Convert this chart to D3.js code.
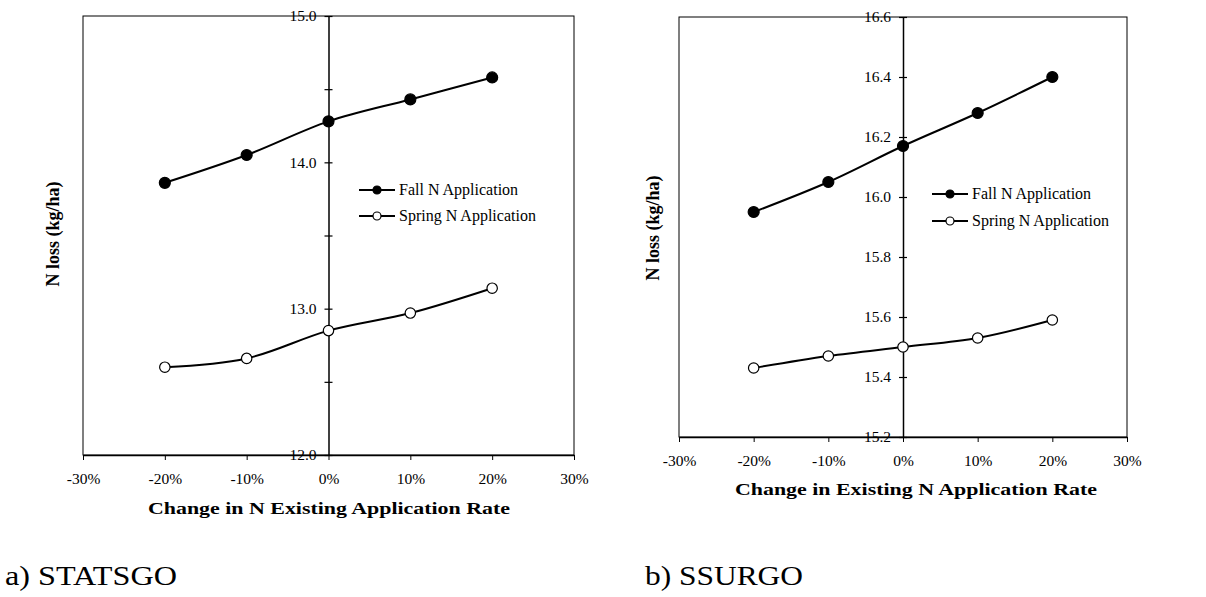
<!DOCTYPE html>
<html>
<head>
<meta charset="utf-8">
<script src="https://cdn.jsdelivr.net/npm/d3@7"></script>
<style>
  html, body { margin: 0; padding: 0; background: #fff; }
  svg { display: block; }
  svg text { font-family: "Liberation Serif", "Times New Roman", serif; fill: #000; }
</style>
</head>
<body>
<svg id="chart" width="1206" height="597"></svg>
<script>
// ---- data ----
const changes = [-20, -10, 0, 10, 20];           // % change in N application rate
const xTicks = [-30, -20, -10, 0, 10, 20, 30];

// a) STATSGO
const statsgoFall   = [13.86, 14.05, 14.28, 14.43, 14.58];
const statsgoSpring = [12.60, 12.66, 12.85, 12.97, 13.14];
const statsgoYMajor = [12.0, 13.0, 14.0, 15.0];
const statsgoYMinor = [12.5, 13.5, 14.5];

// b) SSURGO
const ssurgoFall   = [15.95, 16.05, 16.17, 16.28, 16.40];
const ssurgoSpring = [15.43, 15.47, 15.50, 15.53, 15.59];
const ssurgoYMajor = [15.2, 15.4, 15.6, 15.8, 16.0, 16.2, 16.4, 16.6];

const seriesNames = ["Fall N Application", "Spring N Application"];

const FONT = "Liberation Serif";
const svg = d3.select("#chart");

function panel(cfg) {
  const x = d3.scaleLinear().domain([-30, 30]).range([cfg.left, cfg.right]);
  const y = d3.scaleLinear().domain(cfg.yDomain).range([cfg.bottom, cfg.top]);
  const g = svg.append("g");

  // plot frame
  g.append("rect")
    .attr("x", cfg.left).attr("y", cfg.top)
    .attr("width", cfg.right - cfg.left).attr("height", cfg.bottom - cfg.top)
    .attr("fill", "none").attr("stroke", "#000").attr("stroke-width", 1);

  // x axis at bottom
  const xa = g.append("g")
    .attr("transform", `translate(0,${cfg.bottom})`)
    .attr("font-family", FONT)
    .call(d3.axisBottom(x).tickValues(xTicks).tickFormat(d => d + "%")
      .tickSize(5).tickSizeOuter(0).tickPadding(13));
  xa.attr("font-family", FONT);
  xa.select(".domain").attr("stroke", "#000").attr("stroke-width", 1.5);
  xa.selectAll("text").attr("font-size", 15.5).attr("font-family", FONT);

  // minor y ticks (no labels)
  if (cfg.yMinor) {
    const ym = g.append("g")
      .attr("transform", `translate(${x(0)},0)`)
      .call(d3.axisLeft(y).tickValues(cfg.yMinor).tickFormat("").tickSize(4).tickSizeOuter(0));
    ym.select(".domain").remove();
    ym.selectAll(".tick line").attr("x1", 4).attr("stroke-width", 1.2);
  }
  // y axis through x = 0
  const ya = g.append("g")
    .attr("transform", `translate(${x(0)},0)`)
    .call(d3.axisLeft(y).tickValues(cfg.yMajor).tickFormat(d3.format(".1f"))
      .tickSize(4).tickSizeOuter(0).tickPadding(8));
  ya.attr("font-family", FONT);
  ya.select(".domain").attr("stroke", "#000").attr("stroke-width", 1.5);
  ya.selectAll(".tick line").attr("x1", 4).attr("stroke-width", 1.2);
  ya.selectAll("text").attr("font-size", 15.5).attr("font-family", FONT);

  const line = d3.line().x((d, i) => x(changes[i])).y(d => y(d)).curve(d3.curveCatmullRom);

  // series
  [cfg.fall, cfg.spring].forEach((vals, si) => {
    g.append("path").datum(vals)
      .attr("d", line).attr("fill", "none").attr("stroke", "#000").attr("stroke-width", 2);
    g.selectAll(null).data(vals).enter().append("circle")
      .attr("cx", (d, i) => x(changes[i])).attr("cy", d => y(d))
      .attr("r", si === 0 ? 5.5 : 5.2)
      .attr("fill", si === 0 ? "#000" : "#fff")
      .attr("stroke", "#000").attr("stroke-width", 1.2);
  });

  // legend
  seriesNames.forEach((name, si) => {
    const ly = cfg.legY[si];
    g.append("line").attr("x1", cfg.legX).attr("x2", cfg.legX + 36)
      .attr("y1", ly).attr("y2", ly).attr("stroke", "#000").attr("stroke-width", 2);
    g.append("circle").attr("cx", cfg.legX + 18).attr("cy", ly).attr("r", 4)
      .attr("fill", si === 0 ? "#000" : "#fff").attr("stroke", "#000").attr("stroke-width", 1.2);
    g.append("text").attr("x", cfg.legX + 40).attr("y", ly + 5)
      .attr("font-family", FONT).attr("font-size", 16).text(name);
  });

  // axis titles
  g.append("text")
    .attr("transform", `translate(${cfg.yTitleX},${cfg.yTitleY}) rotate(-90)`)
    .attr("text-anchor", "middle").attr("font-family", FONT)
    .attr("font-size", 18).attr("font-weight", "bold")
    .text("N loss (kg/ha)");
  g.append("text")
    .attr("x", cfg.xTitleX).attr("y", cfg.xTitleY)
    .attr("text-anchor", "middle").attr("font-family", FONT)
    .attr("font-size", 17).attr("font-weight", "bold")
    .attr("textLength", 362).attr("lengthAdjust", "spacingAndGlyphs")
    .text(cfg.xTitle);

  // caption
  g.append("text").attr("x", cfg.capX).attr("y", 585)
    .attr("font-family", FONT).attr("font-size", 27)
    .attr("textLength", cfg.capW).attr("lengthAdjust", "spacingAndGlyphs")
    .text(cfg.caption);
}

panel({
  left: 83, right: 574, top: 16, bottom: 455,
  yDomain: [12, 15], yMajor: statsgoYMajor, yMinor: statsgoYMinor,
  fall: statsgoFall, spring: statsgoSpring,
  legX: 359, legY: [190, 216],
  yTitleX: 59, yTitleY: 234,
  xTitleX: 329, xTitleY: 514, xTitle: "Change in N Existing Application Rate",
  capX: 5, capW: 172, caption: "a) STATSGO"
});

panel({
  left: 679, right: 1127, top: 17, bottom: 437,
  yDomain: [15.2, 16.6], yMajor: ssurgoYMajor, yMinor: null,
  fall: ssurgoFall, spring: ssurgoSpring,
  legX: 932, legY: [194, 221],
  yTitleX: 659, yTitleY: 228,
  xTitleX: 916, xTitleY: 495, xTitle: "Change in Existing N Application Rate",
  capX: 645, capW: 158, caption: "b) SSURGO"
});
</script>
</body>
</html>
